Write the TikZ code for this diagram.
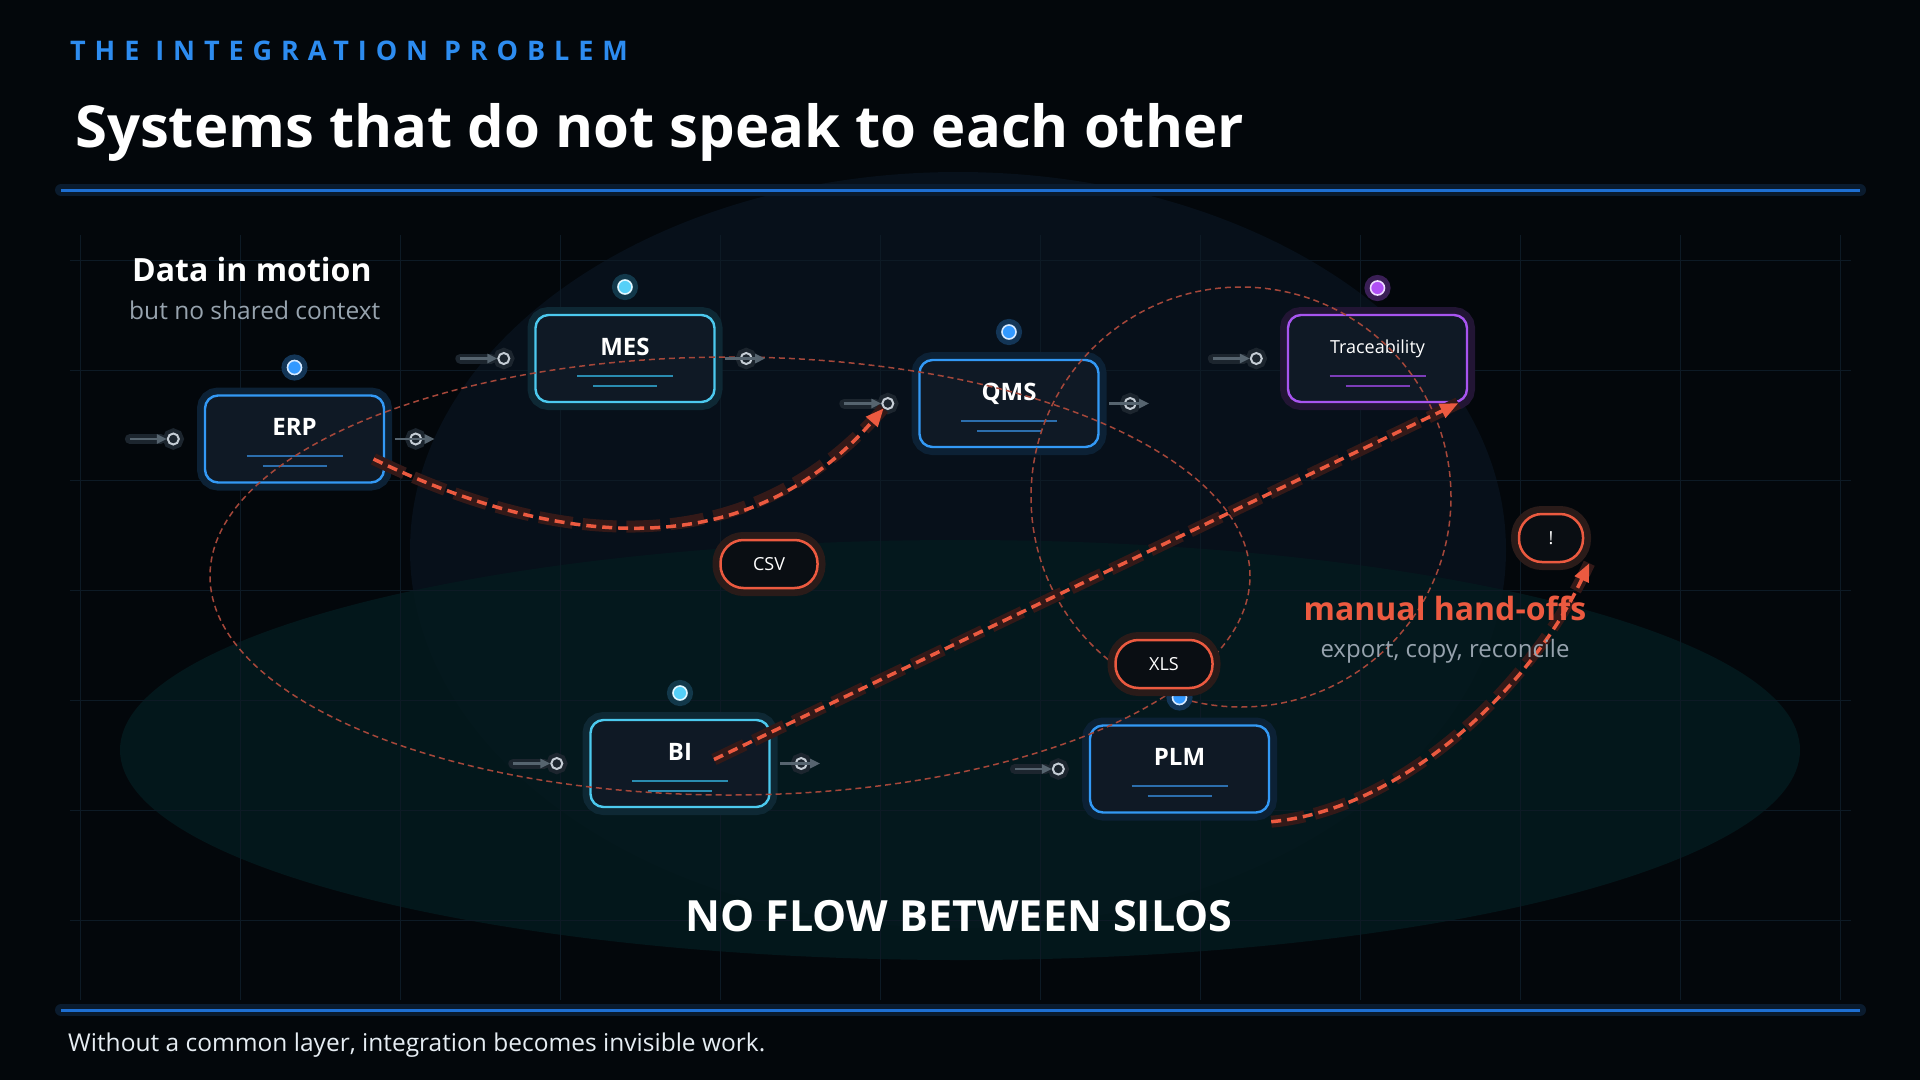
\documentclass[tikz,border=0pt]{standalone}
\usepackage{fontspec}
\setmainfont{Open Sans}
\newfontfamily\kickerfont[LetterSpace=33]{Open Sans}
\usetikzlibrary{arrows.meta,positioning,calc}

\definecolor{bgdark}{HTML}{03070B}
\definecolor{blobdark}{HTML}{07101A}
\definecolor{blobteal}{HTML}{041A1E}
\definecolor{gridline}{HTML}{0D1A25}
\definecolor{ruleblue}{HTML}{1E6FD2}
\definecolor{rulehalo}{HTML}{0A1B2E}
\definecolor{kicker}{HTML}{2D8CF0}
\definecolor{subgray}{HTML}{97A3AE}
\definecolor{boxfill}{HTML}{0F1925}
\definecolor{sysblue}{HTML}{3399F5}
\definecolor{syscyan}{HTML}{4CC9EE}
\definecolor{syspurple}{HTML}{A855F0}
\definecolor{haloblue}{HTML}{0C2135}
\definecolor{halocyan}{HTML}{0E2834}
\definecolor{halopurple}{HTML}{221534}
\definecolor{lineblue}{HTML}{2C6EAD}
\definecolor{linecyan}{HTML}{2A8CB0}
\definecolor{linepurple}{HTML}{7C3DB8}
\definecolor{dotblue}{HTML}{3399FF}
\definecolor{dotcyan}{HTML}{55D0F8}
\definecolor{dotpurple}{HTML}{B050F5}
\definecolor{ringblue}{HTML}{D6E9FF}
\definecolor{ringcyan}{HTML}{E0F7FF}
\definecolor{ringpurple}{HTML}{EEDCFF}
\definecolor{dothaloblue}{HTML}{133556}
\definecolor{dothalocyan}{HTML}{12384A}
\definecolor{dothalopurple}{HTML}{3A1F55}
\definecolor{handoff}{HTML}{EC5A40}
\definecolor{handhalo}{HTML}{331918}
\definecolor{orbit}{HTML}{A5473A}
\definecolor{portgray}{HTML}{56646F}
\definecolor{portring}{HTML}{C5CDD5}
\definecolor{porthalo}{HTML}{1C252E}
\definecolor{pillfill}{HTML}{0A0E13}
\definecolor{pillhalo}{HTML}{2A1B19}
\definecolor{footwhite}{HTML}{E6EDF3}

\begin{document}
\begin{tikzpicture}[
    x=1pt, y=-1pt,
    sysbox/.style={rectangle, rounded corners=13pt, minimum width=179pt, minimum height=87pt,
        fill=boxfill, line width=2.4pt, text=white, inner sep=0pt,
        font=\fontsize{24}{28}\selectfont\bfseries, text height=18pt, text depth=25pt},
    blueglow/.style={draw=sysblue, preaction={draw=haloblue, line width=16pt}},
    cyanglow/.style={draw=syscyan, preaction={draw=halocyan, line width=16pt}},
    purpleglow/.style={draw=syspurple, preaction={draw=halopurple, line width=16pt}},
    boxline/.style={line width=2pt},
    statusdot/.style={circle, minimum size=14pt, inner sep=0pt, line width=1.6pt},
    bluedot/.style={statusdot, fill=dotblue, draw=ringblue, preaction={draw=dothaloblue, line width=12pt}},
    cyandot/.style={statusdot, fill=dotcyan, draw=ringcyan, preaction={draw=dothalocyan, line width=12pt}},
    purpledot/.style={statusdot, fill=dotpurple, draw=ringpurple, preaction={draw=dothalopurple, line width=12pt}},
    port/.style={circle, minimum size=11pt, inner sep=0pt, draw=portring, line width=2pt, fill=porthalo,
        preaction={draw=porthalo, line width=10pt}},
    portarrow/.style={draw=portgray, line width=2.5pt, -{Triangle[length=10pt, width=9pt]},
        preaction={draw=porthalo, line width=10pt, line cap=round, shorten >=6pt, -}},
    outarrow/.style={draw=portgray, line width=2.5pt, -{Triangle[length=10pt, width=9pt]}},
    pill/.style={rectangle, rounded corners=23pt, minimum width=97pt, minimum height=48pt,
        fill=pillfill, draw=handoff, line width=2.5pt, text=white, font=\fontsize{18}{22}\selectfont,
        preaction={draw=pillhalo, line width=16pt}},
    handoffline/.style={draw=handoff, line width=3.5pt, dash pattern=on 10pt off 6pt,
        -{Triangle[length=18pt, width=15pt]},
        preaction={draw=handhalo, line width=12pt, dash pattern=on 34pt off 10pt, -}},
    orbitline/.style={draw=orbit, line width=1.5pt, dash pattern=on 6pt off 4pt},
    rule/.style={draw=ruleblue, line width=3pt, preaction={draw=rulehalo, line width=12pt, line cap=round}}
]

% Backdrop
\fill[bgdark] (0,0) rectangle (1920,1080);
\useasboundingbox (0,0) rectangle (1920,1080);
\fill[blobdark] (958,550) ellipse [x radius=548pt, y radius=378pt];
\fill[blobteal, fill opacity=0.85] (960,750) ellipse [x radius=840pt, y radius=210pt];
\foreach \gx in {80,240,...,1840} \draw[gridline, line width=1pt] (\gx,235) -- (\gx,1000);
\foreach \gy in {260,370,...,920} \draw[gridline, line width=1pt] (70,\gy) -- (1851,\gy);

% Header
\node[anchor=base west, inner sep=0pt, text=kicker, font=\kickerfont\fontsize{27}{30}\selectfont\bfseries] (kicker) at (70,60) {THE INTEGRATION PROBLEM};
\node[anchor=base west, inner sep=0pt, text=white, font=\fontsize{58}{66}\selectfont\bfseries] (title) at (75,147) {Systems that do not speak to each other};
\draw[rule] (61,190) -- (1860,190);

\node[anchor=base west, inner sep=0pt, text=white, font=\fontsize{32}{38}\selectfont\bfseries] (motion) at (132,281) {Data in motion};
\node[anchor=base west, inner sep=0pt, text=subgray, font=\fontsize{24.5}{29}\selectfont] (motionsub) at (129,319) {but no shared context};

% Systems
\node[sysbox, blueglow] (erp) at (294.5,439) {ERP};
\node[sysbox, cyanglow] (mes) at (625,358.5) {MES};
\node[sysbox, blueglow] (qms) at (1009,403.5) {QMS};
\node[sysbox, purpleglow, font=\fontsize{18}{22}\selectfont, text depth=29pt] (trace) at (1377.5,358.5) {Traceability};
\node[sysbox, cyanglow] (bi) at (680,763.5) {BI};
\node[sysbox, blueglow] (plm) at (1179.5,769) {PLM};

\draw[boxline, lineblue] ([xshift=-48pt, yshift=-17pt]erp.center) -- ++(96,0);
\draw[boxline, lineblue] ([xshift=-32pt, yshift=-27pt]erp.center) -- ++(64,0);
\draw[boxline, linecyan] ([xshift=-48pt, yshift=-17pt]mes.center) -- ++(96,0);
\draw[boxline, linecyan] ([xshift=-32pt, yshift=-27pt]mes.center) -- ++(64,0);
\draw[boxline, lineblue] ([xshift=-48pt, yshift=-17pt]qms.center) -- ++(96,0);
\draw[boxline, lineblue] ([xshift=-32pt, yshift=-27pt]qms.center) -- ++(64,0);
\draw[boxline, linepurple] ([xshift=-48pt, yshift=-17pt]trace.center) -- ++(96,0);
\draw[boxline, linepurple] ([xshift=-32pt, yshift=-27pt]trace.center) -- ++(64,0);
\draw[boxline, linecyan] ([xshift=-48pt, yshift=-17pt]bi.center) -- ++(96,0);
\draw[boxline, linecyan] ([xshift=-32pt, yshift=-27pt]bi.center) -- ++(64,0);
\draw[boxline, lineblue] ([xshift=-48pt, yshift=-17pt]plm.center) -- ++(96,0);
\draw[boxline, lineblue] ([xshift=-32pt, yshift=-27pt]plm.center) -- ++(64,0);

% Orbits
\draw[orbitline] (730,576) ellipse [x radius=520pt, y radius=219pt];
\draw[orbitline] (1241,497) circle [radius=210pt];

% Status dots
\node[bluedot, above=19pt of erp] (erpdot) {};
\node[cyandot, above=19pt of mes] (mesdot) {};
\node[bluedot, above=19pt of qms] (qmsdot) {};
\node[purpledot, above=18pt of trace] (tracedot) {};
\node[cyandot, above=18pt of bi] (bidot) {};
\node[bluedot, above=19pt of plm] (plmdot) {};

% Ports
\node[port, left=24pt of erp] (erpin) {};
\node[port, left=24pt of mes] (mesin) {};
\node[port, left=24pt of qms] (qmsin) {};
\node[port, left=24pt of trace] (tracein) {};
\node[port, left=26pt of bi] (biin) {};
\node[port, left=24pt of plm] (plmin) {};
\coordinate[left=37pt of erpin.west] (erpsrc);
\coordinate[left=37pt of mesin.west] (messrc);
\coordinate[left=37pt of qmsin.west] (qmssrc);
\coordinate[left=37pt of tracein.west] (tracesrc);
\coordinate[left=37pt of biin.west] (bisrc);
\coordinate[left=37pt of plmin.west] (plmsrc);
\draw[portarrow] (erpsrc) -- (erpin);
\draw[portarrow] (messrc) -- (mesin);
\draw[portarrow] (qmssrc) -- (qmsin);
\draw[portarrow] (tracesrc) -- (tracein);
\draw[portarrow] (bisrc) -- (biin);
\draw[portarrow] (plmsrc) -- (plmin);

\node[port, right=24pt of erp] (erpout) {};
\node[port, right=24pt of mes] (mesout) {};
\node[port, right=24pt of qms] (qmsout) {};
\node[port, right=24pt of bi] (biout) {};
\coordinate[left=21pt of erpout.center] (erpfrom);
\coordinate[right=19pt of erpout.center] (erpto);
\coordinate[left=21pt of mesout.center] (mesfrom);
\coordinate[right=19pt of mesout.center] (mesto);
\coordinate[left=21pt of qmsout.center] (qmsfrom);
\coordinate[right=19pt of qmsout.center] (qmsto);
\coordinate[left=21pt of biout.center] (bifrom);
\coordinate[right=19pt of biout.center] (bito);
\draw[outarrow] (erpfrom) -- (erpto);
\draw[outarrow] (mesfrom) -- (mesto);
\draw[outarrow] (qmsfrom) -- (qmsto);
\draw[outarrow] (bifrom) -- (bito);

% File hand-offs
\node[pill] (csv) at (769,564) {CSV};
\node[pill] (xls) at (1164,664) {XLS};
\node[pill, minimum width=64pt] (alert) at (1551,538) {!};

\coordinate (erpfeed) at ([xshift=79pt, yshift=-20pt]erp.center);
\coordinate (bifeed) at ([xshift=34pt, yshift=4pt]bi.center);
\coordinate (tracedrop) at ([xshift=-10pt]trace.south east);
\coordinate (plmfeed) at ([xshift=1pt, yshift=-8pt]plm.south east);
\coordinate (alertdrop) at ([xshift=5pt]alert.south east);

\draw[handoffline] (erpfeed) .. controls (520,530) and (730,585) .. (qmsin);
\draw[handoffline] (bifeed) -- (tracedrop);
\draw[handoffline] (plmfeed) .. controls (1400,810) and (1530,690) .. (alertdrop);

\node[anchor=base, inner sep=0pt, text=handoff, font=\fontsize{32}{36}\selectfont\bfseries] (handoffs) at (1445,620) {manual hand-offs};
\node[anchor=base, inner sep=0pt, text=subgray, font=\fontsize{24}{28}\selectfont] (handoffsub) at (1445,657) {export, copy, reconcile};

% Footer
\node[anchor=base, inner sep=0pt, text=white, font=\fontsize{43}{50}\selectfont\bfseries] (silos) at (959,931) {NO FLOW BETWEEN SILOS};
\draw[rule] (61,1010) -- (1860,1010);
\node[anchor=base west, inner sep=0pt, text=footwhite, font=\fontsize{24.5}{28}\selectfont] (footer) at (68,1051) {Without a common layer, integration becomes invisible work.};

\end{tikzpicture}
\end{document}
